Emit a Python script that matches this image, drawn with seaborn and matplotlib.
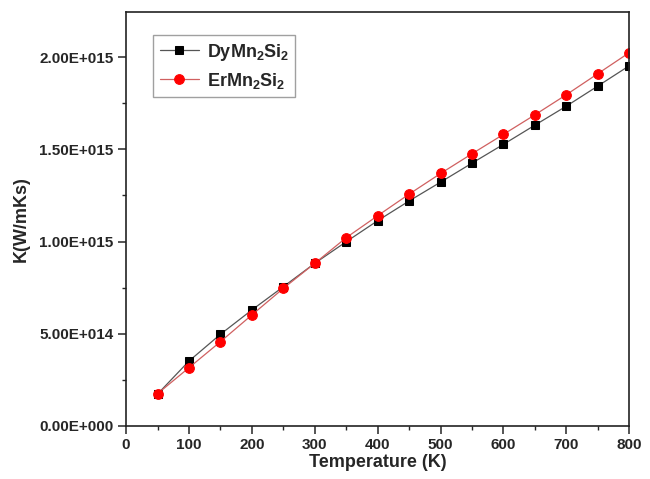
import numpy as np
import pandas as pd
import matplotlib
matplotlib.use("Agg")
import matplotlib.pyplot as plt
from matplotlib.ticker import FuncFormatter, MultipleLocator
import seaborn as sns

# Data
temperature = [50, 100, 150, 200, 250, 300, 350, 400, 450, 500, 550, 600, 650, 700, 750, 800]
k_dy = [1.73e14, 3.52e14, 4.97e14, 6.29e14, 7.55e14, 8.82e14, 9.99e14, 1.113e15,
        1.220e15, 1.322e15, 1.425e15, 1.527e15, 1.631e15, 1.734e15, 1.843e15, 1.953e15]
k_er = [1.75e14, 3.16e14, 4.57e14, 6.02e14, 7.46e14, 8.82e14, 1.021e15, 1.140e15,
        1.257e15, 1.369e15, 1.476e15, 1.581e15, 1.687e15, 1.796e15, 1.910e15, 2.024e15]
labels = [r"DyMn$_2$Si$_2$", r"ErMn$_2$Si$_2$"]

sns.set_style("ticks")
plt.rcParams["font.family"] = ["Liberation Sans", "DejaVu Sans"]
plt.rcParams["font.weight"] = "bold"
plt.rcParams["mathtext.fontset"] = "custom"
plt.rcParams["mathtext.rm"] = "Liberation Sans:bold"
plt.rcParams["mathtext.it"] = "Liberation Sans:bold"
plt.rcParams["mathtext.bf"] = "Liberation Sans:bold"

df = pd.DataFrame({"T": temperature, "dy": k_dy, "er": k_er})

fig = plt.figure(figsize=(6.5, 4.79), dpi=100)
ax = fig.add_axes([0.194, 0.1107, 0.774, 0.864])

sns.lineplot(data=df, x="T", y="dy", ax=ax, color="#555555", linewidth=0.9,
             marker="s", markersize=6, markerfacecolor="black", markeredgecolor="black",
             label=labels[0])
sns.lineplot(data=df, x="T", y="er", ax=ax, color="#d06060", linewidth=0.9,
             marker="o", markersize=7, markerfacecolor="#ff0000", markeredgecolor="#ff0000",
             label=labels[1])

ax.set_xlim(0, 800)
ax.set_ylim(0, 2.244e15)
ax.xaxis.set_major_locator(MultipleLocator(100))
ax.xaxis.set_minor_locator(MultipleLocator(50))
ax.yaxis.set_major_locator(MultipleLocator(5e14))
ax.yaxis.set_minor_locator(MultipleLocator(2.5e14))


def sci_fmt(v, pos):
    if v == 0:
        return "0.00E+000"
    exp = int(np.floor(np.log10(abs(v))))
    mant = v / 10 ** exp
    return f"{mant:.2f}E+{exp:03d}"


ax.yaxis.set_major_formatter(FuncFormatter(sci_fmt))
ax.tick_params(which="major", direction="out", length=6, width=1.1, labelsize=11, pad=3)
ax.tick_params(which="minor", direction="out", length=3, width=1.0)
for lab in ax.get_xticklabels() + ax.get_yticklabels():
    lab.set_fontweight("bold")
for s in ax.spines.values():
    s.set_visible(True)
    s.set_linewidth(1.2)
    s.set_color("#222222")

ax.set_xlabel("Temperature (K)", fontsize=13, fontweight="bold", labelpad=1)
ax.set_ylabel("K(W/mKs)", fontsize=13, fontweight="bold", labelpad=7)

leg = ax.legend(loc="upper left", bbox_to_anchor=(0.054, 0.944), borderaxespad=0,
                fancybox=False, edgecolor="#888888", handlelength=2.2,
                handletextpad=0.4, labelspacing=0.45, borderpad=0.35,
                prop={"weight": "bold", "size": 13})
leg.get_frame().set_linewidth(1.0)

fig.savefig("out.png", dpi=100)
